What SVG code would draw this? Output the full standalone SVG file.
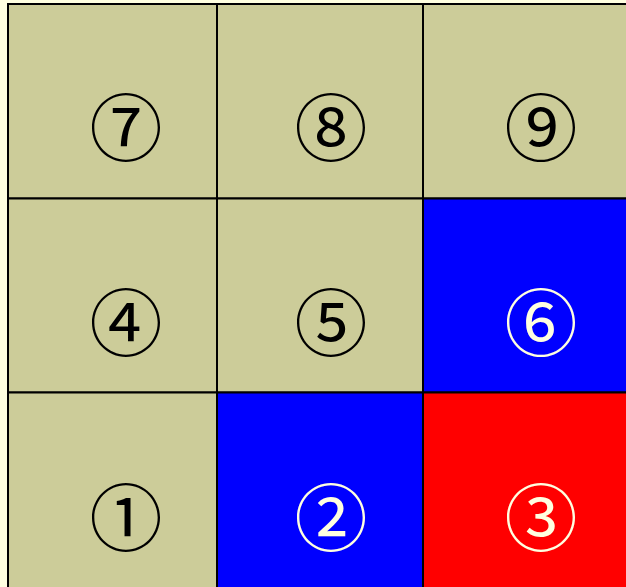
<svg xmlns="http://www.w3.org/2000/svg" width="626" height="587" viewBox="0 0 626 587">
<style>
.cell{stroke:#000;stroke-width:2}
.tan{fill:#CCCC99}
.blue{fill:#0000FF}
.red{fill:#FF0000}
.num{font-family:"Noto Sans CJK JP","DejaVu Sans",sans-serif;font-size:73px;font-weight:400;text-anchor:middle;dominant-baseline:central}
.dark{fill:#000}
.light{fill:#FFFFE0}
</style>
<rect x="0" y="0" width="626" height="587" fill="#FFFFE0"/>
<g id="cell7"><rect class="cell tan" x="8" y="4" width="209" height="194.5"/><text class="num dark" x="126" y="123">⑦</text></g>
<g id="cell8"><rect class="cell tan" x="217" y="4" width="206" height="194.5"/><text class="num dark" x="331" y="123">⑧</text></g>
<g id="cell9"><rect class="cell tan" x="423" y="4" width="210" height="194.5"/><text class="num dark" x="541" y="123">⑨</text></g>
<g id="cell4"><rect class="cell tan" x="8" y="198.5" width="209" height="194"/><text class="num dark" x="126" y="318">④</text></g>
<g id="cell5"><rect class="cell tan" x="217" y="198.5" width="206" height="194"/><text class="num dark" x="331" y="318">⑤</text></g>
<g id="cell6"><rect class="cell blue" x="423" y="198.5" width="210" height="194"/><text class="num light" x="541" y="318">⑥</text></g>
<g id="cell1"><rect class="cell tan" x="8" y="392.5" width="209" height="200"/><text class="num dark" x="126" y="513">①</text></g>
<g id="cell2"><rect class="cell blue" x="217" y="392.5" width="206" height="200"/><text class="num light" x="331" y="513">②</text></g>
<g id="cell3"><rect class="cell red" x="423" y="392.5" width="210" height="200"/><text class="num light" x="541" y="513">③</text></g>
</svg>
